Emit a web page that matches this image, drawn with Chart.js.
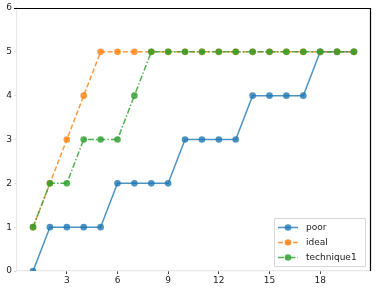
<!DOCTYPE html>
<html>
<head>
<meta charset="utf-8">
<script src="https://cdn.jsdelivr.net/npm/chart.js@4.4.0/dist/chart.umd.min.js"></script>
<style>
  html, body { margin: 0; padding: 0; background: #fff; }
  #wrap { width: 376px; height: 290px; }
</style>
</head>
<body>
<div id="wrap"><canvas id="chart" width="376" height="290"></canvas></div>
<script>
// data
const steps = [1, 2, 3, 4, 5, 6, 7, 8, 9, 10, 11, 12, 13, 14, 15, 16, 17, 18, 19, 20];
const poor = [0, 1, 1, 1, 1, 2, 2, 2, 2, 3, 3, 3, 3, 4, 4, 4, 4, 5, 5, 5];
const ideal = [1, 2, 3, 4, 5, 5, 5, 5, 5, 5, 5, 5, 5, 5, 5, 5, 5, 5, 5, 5];
const technique1 = [1, 2, 2, 3, 3, 3, 4, 5, 5, 5, 5, 5, 5, 5, 5, 5, 5, 5, 5, 5];
const xTicks = [3, 6, 9, 12, 15, 18];
const yTicks = [0, 1, 2, 3, 4, 5, 6];

const toPoints = (ys) => steps.map((x, i) => ({ x: x, y: ys[i] }));

function series(label, ys, color, dash, order) {
  return {
    label: label,
    data: toPoints(ys),
    borderColor: color,
    backgroundColor: color,
    pointBackgroundColor: color,
    pointBorderColor: color,
    borderWidth: 1.5,
    borderDash: dash,
    pointRadius: 3.3,
    pointBorderWidth: 0,
    tension: 0,
    order: order, // seri terakhir digambar paling atas
  };
}

const datasets = [
  series('poor', poor, 'rgba(31,119,180,0.8)', [], 2),
  series('ideal', ideal, 'rgba(255,127,14,0.8)', [5, 2.5], 1),
  series('technique1', technique1, 'rgba(44,160,44,0.82)', [6, 2, 1.5, 2], 0),
];

// legenda di dalam area plot, kanan bawah
const boxLegend = {
  id: 'boxLegend',
  afterDraw(chart) {
    const ctx = chart.ctx;
    const area = chart.chartArea;
    const w = 91, h = 48;
    const x0 = area.right - w - 5, y0 = area.bottom - h - 5;
    ctx.save();
    ctx.fillStyle = 'rgba(255,255,255,0.85)';
    ctx.strokeStyle = '#d6d6d6';
    ctx.lineWidth = 1;
    ctx.beginPath();
    ctx.rect(x0 + 0.5, y0 + 0.5, w, h);
    ctx.fill();
    ctx.stroke();
    ctx.font = '9px "DejaVu Sans"';
    ctx.textBaseline = 'middle';
    chart.data.datasets.forEach((ds, i) => {
      const y = y0 + 9.5 + i * 15;
      ctx.strokeStyle = ds.borderColor;
      ctx.lineWidth = 1.5;
      ctx.setLineDash(ds.borderDash);
      ctx.beginPath();
      ctx.moveTo(x0 + 4, y);
      ctx.lineTo(x0 + 24, y);
      ctx.stroke();
      ctx.setLineDash([]);
      ctx.fillStyle = ds.borderColor;
      ctx.beginPath();
      ctx.arc(x0 + 14, y, 3.3, 0, Math.PI * 2);
      ctx.fill();
      ctx.fillStyle = '#222';
      ctx.fillText(ds.label, x0 + 32, y);
    });
    ctx.restore();
  },
};

// garis tepi atas dan kanan warna hitam
const topRightFrame = {
  id: 'topRightFrame',
  afterDraw(chart) {
    const ctx = chart.ctx;
    const a = chart.chartArea;
    ctx.save();
    ctx.strokeStyle = '#000';
    ctx.lineWidth = 1.2;
    ctx.beginPath();
    ctx.moveTo(a.left - 3, Math.round(a.top) + 0.5);
    ctx.lineTo(Math.round(a.right) + 0.5, Math.round(a.top) + 0.5);
    ctx.lineTo(Math.round(a.right) + 0.5, a.bottom);
    ctx.stroke();
    ctx.restore();
  },
};

const ctx = document.getElementById('chart').getContext('2d');
new Chart(ctx, {
  type: 'line',
  data: { datasets: datasets },
  plugins: [boxLegend, topRightFrame],
  options: {
    responsive: false,
    animation: false,
    layout: { padding: { left: 0, right: 6, top: 8, bottom: 0 } },
    plugins: {
      legend: { display: false },
      tooltip: { enabled: false },
    },
    scales: {
      x: {
        type: 'linear',
        min: 0.05,
        max: 20.95,
        afterBuildTicks: (scale) => { scale.ticks = xTicks.map((v) => ({ value: v })); },
        afterFit: (scale) => { scale.height = 19; },
        grid: { drawOnChartArea: false, drawTicks: true, tickLength: 3, color: '#444' },
        border: { color: '#e8e8e8', width: 1.2 },
        ticks: { font: { family: 'DejaVu Sans', size: 9 }, color: '#222', padding: 1, maxRotation: 0 },
      },
      y: {
        min: 0,
        max: 6,
        afterBuildTicks: (scale) => { scale.ticks = yTicks.map((v) => ({ value: v })); },
        afterFit: (scale) => { scale.width = 17; },
        grid: { drawOnChartArea: false, drawTicks: true, tickLength: 3, color: '#e0e0e0' },
        border: { color: '#e8e8e8', width: 1.2 },
        ticks: { font: { family: 'DejaVu Sans', size: 9 }, color: '#222', padding: 2 },
      },
    },
  },
});
</script>
</body>
</html>
